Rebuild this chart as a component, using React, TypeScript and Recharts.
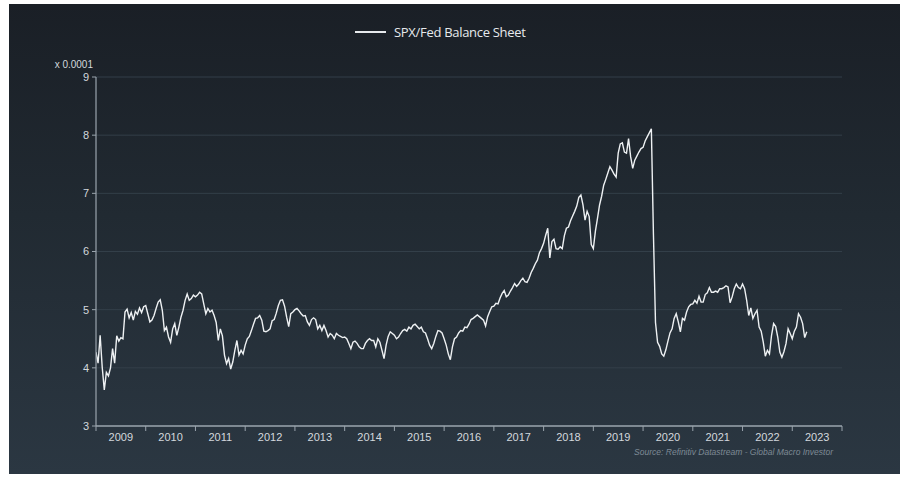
import { LineChart, Line, XAxis, YAxis, CartesianGrid } from "recharts"

// SPX / Fed balance sheet ratio (x 0.0001), semi-monthly readings per calendar year
const YEARS = [2009, 2010, 2011, 2012, 2013, 2014, 2015, 2016, 2017, 2018, 2019, 2020, 2021, 2022, 2023]

const v2009 = [4.27, 4.08, 4.56, 4.01, 3.62, 3.92, 3.86, 4.0, 4.33, 4.08, 4.55, 4.46, 4.52, 4.5, 4.96, 5.01, 4.86, 4.95, 4.82, 4.97, 4.92, 5.03, 4.95, 5.05]
const v2010 = [5.07, 4.93, 4.79, 4.82, 4.9, 5.02, 5.13, 5.17, 4.99, 4.64, 4.7, 4.53, 4.44, 4.67, 4.76, 4.56, 4.7, 4.87, 4.99, 5.16, 5.27, 5.16, 5.19, 5.25]
const v2011 = [5.22, 5.25, 5.3, 5.27, 5.1, 4.93, 5.02, 4.96, 4.99, 4.9, 4.78, 4.47, 4.67, 4.55, 4.22, 4.07, 4.16, 3.98, 4.1, 4.3, 4.47, 4.22, 4.3, 4.24]
const v2012 = [4.39, 4.5, 4.54, 4.64, 4.75, 4.85, 4.86, 4.9, 4.82, 4.63, 4.62, 4.64, 4.67, 4.81, 4.83, 4.94, 5.07, 5.16, 5.17, 5.06, 4.87, 4.71, 4.93, 4.96]
const v2013 = [5.0, 5.02, 4.98, 4.93, 4.89, 4.9, 4.79, 4.73, 4.83, 4.86, 4.83, 4.67, 4.73, 4.64, 4.73, 4.64, 4.53, 4.59, 4.56, 4.5, 4.59, 4.56, 4.54, 4.52]
const v2014 = [4.53, 4.5, 4.42, 4.33, 4.44, 4.46, 4.42, 4.36, 4.33, 4.33, 4.42, 4.47, 4.5, 4.47, 4.47, 4.36, 4.5, 4.44, 4.3, 4.16, 4.39, 4.54, 4.62, 4.59]
const v2015 = [4.56, 4.5, 4.53, 4.59, 4.64, 4.66, 4.63, 4.7, 4.67, 4.73, 4.75, 4.71, 4.67, 4.7, 4.62, 4.6, 4.5, 4.39, 4.33, 4.42, 4.54, 4.64, 4.63, 4.6]
const v2016 = [4.5, 4.39, 4.24, 4.14, 4.36, 4.5, 4.53, 4.6, 4.64, 4.63, 4.7, 4.69, 4.75, 4.83, 4.85, 4.88, 4.91, 4.88, 4.85, 4.82, 4.72, 4.88, 4.97, 5.05]
const v2017 = [5.06, 5.11, 5.1, 5.2, 5.28, 5.33, 5.22, 5.25, 5.32, 5.38, 5.45, 5.4, 5.44, 5.5, 5.54, 5.48, 5.47, 5.54, 5.64, 5.71, 5.79, 5.85, 5.98, 6.05]
const v2018 = [6.14, 6.28, 6.4, 5.89, 6.17, 6.21, 6.05, 6.04, 6.08, 6.05, 6.27, 6.4, 6.42, 6.53, 6.61, 6.69, 6.78, 6.93, 6.97, 6.8, 6.54, 6.69, 6.6, 6.12]
const v2019 = [6.05, 6.35, 6.57, 6.8, 6.95, 7.14, 7.24, 7.35, 7.46, 7.4, 7.33, 7.28, 7.69, 7.85, 7.87, 7.71, 7.69, 7.94, 7.63, 7.43, 7.57, 7.64, 7.71, 7.77]
const v2020 = [7.79, 7.9, 7.97, 8.04, 8.11, 6.3, 4.78, 4.44, 4.37, 4.24, 4.2, 4.31, 4.46, 4.6, 4.67, 4.85, 4.93, 4.79, 4.62, 4.85, 4.82, 4.96, 5.05, 5.09]
const v2021 = [5.1, 5.16, 5.11, 5.23, 5.13, 5.13, 5.26, 5.29, 5.38, 5.3, 5.3, 5.32, 5.3, 5.36, 5.36, 5.38, 5.41, 5.39, 5.12, 5.22, 5.36, 5.44, 5.38, 5.36]
const v2022 = [5.44, 5.36, 5.16, 4.9, 5.03, 4.85, 4.93, 4.99, 4.7, 4.63, 4.44, 4.2, 4.3, 4.24, 4.56, 4.76, 4.71, 4.53, 4.27, 4.18, 4.28, 4.42, 4.67, 4.59]
const v2023 = [4.5, 4.63, 4.7, 4.93, 4.87, 4.76, 4.52, 4.62]

const RATIO_BY_YEAR = [v2009, v2010, v2011, v2012, v2013, v2014, v2015, v2016, v2017, v2018, v2019, v2020, v2021, v2022, v2023]

const Y_TICKS = [3, 4, 5, 6, 7, 8, 9]
const YEAR_BOUNDS = [2009, 2010, 2011, 2012, 2013, 2014, 2015, 2016, 2017, 2018, 2019, 2020, 2021, 2022, 2023, 2024]

const data = YEARS.flatMap((yr, j) => RATIO_BY_YEAR[j].map((v, i) => ({ t: yr + i / 24, v })))

const FONT = "'Liberation Sans', Arial, sans-serif"
const AXIS_COLOR = "#9aa4ad"
const TEXT_COLOR = "#d3d8dd"

// year label sits in the middle of its year, tick marks stay on the boundaries
function YearTick(props: any) {
  const { x, y, payload, index, width } = props
  if (index >= YEARS.length) return null
  const half = (width || 746) / (YEAR_BOUNDS.length - 1) / 2
  return (
    <text x={x + half} y={y} dy="0.71em" textAnchor="middle" fontSize={11} fill={TEXT_COLOR} fontFamily={FONT}>
      {payload.value}
    </text>
  )
}

export default function App() {
  return (
    <div style={{ position: "absolute", left: 0, top: 0, width: 906, height: 480, background: "#fff", fontFamily: FONT }}>
      {/* card background */}
      <div
        style={{
          position: "absolute",
          left: 9,
          top: 4,
          width: 891,
          height: 470,
          background: "linear-gradient(180deg, #1a1f26 0%, #212a32 45%, #2b3742 100%)",
        }}
      />

      {/* legend */}
      <div style={{ position: "absolute", left: 355, top: 23, height: 18, display: "flex", alignItems: "center", gap: 8 }}>
        <div style={{ width: 31, height: 1.5, background: "#e6e9ec" }} />
        <span style={{ fontSize: 13, color: "#e6e9ec", fontFamily: "'Open Sans', sans-serif", letterSpacing: -0.3 }}>SPX/Fed Balance Sheet</span>
      </div>

      {/* unit label */}
      <div style={{ position: "absolute", right: 906 - 93, top: 59, fontSize: 10, color: TEXT_COLOR, whiteSpace: "nowrap" }}>
        x 0.0001
      </div>

      <div style={{ position: "absolute", left: 0, top: 0 }}>
        <LineChart width={906} height={480} data={data} margin={{ top: 77, right: 64, left: 56, bottom: 28 }}>
          <CartesianGrid vertical={false} stroke="#35414b" strokeOpacity={0.9} />
          <XAxis
            dataKey="t"
            type="number"
            domain={[2009, 2024]}
            ticks={YEAR_BOUNDS}
            interval={0}
            allowDataOverflow
            tick={<YearTick />}
            tickSize={5}
            tickMargin={2}
            height={26}
            stroke={AXIS_COLOR}
            tickLine={{ stroke: AXIS_COLOR }}
            axisLine={{ stroke: AXIS_COLOR, strokeWidth: 1.5 }}
          />
          <YAxis
            type="number"
            domain={[3, 9]}
            ticks={Y_TICKS}
            interval={0}
            width={40}
            tickSize={4}
            tickMargin={3}
            stroke={AXIS_COLOR}
            axisLine={{ stroke: AXIS_COLOR, strokeWidth: 1.2 }}
            tickLine={{ stroke: AXIS_COLOR }}
            tick={{ fontSize: 11, fill: TEXT_COLOR, fontFamily: FONT }}
          />
          <Line
            type="linear"
            dataKey="v"
            stroke="#eef1f3"
            strokeWidth={1.4}
            dot={false}
            isAnimationActive={false}
          />
        </LineChart>
      </div>

      {/* source */}
      <div
        style={{
          position: "absolute",
          right: 906 - 833,
          top: 447,
          fontSize: 8.5,
          fontStyle: "italic",
          color: "#7e8a95",
          fontFamily: "'Liberation Sans Narrow', 'Liberation Sans', Arial, sans-serif",
          whiteSpace: "nowrap",
        }}
      >
        Source: Refinitiv Datastream - Global Macro Investor
      </div>
    </div>
  )
}
